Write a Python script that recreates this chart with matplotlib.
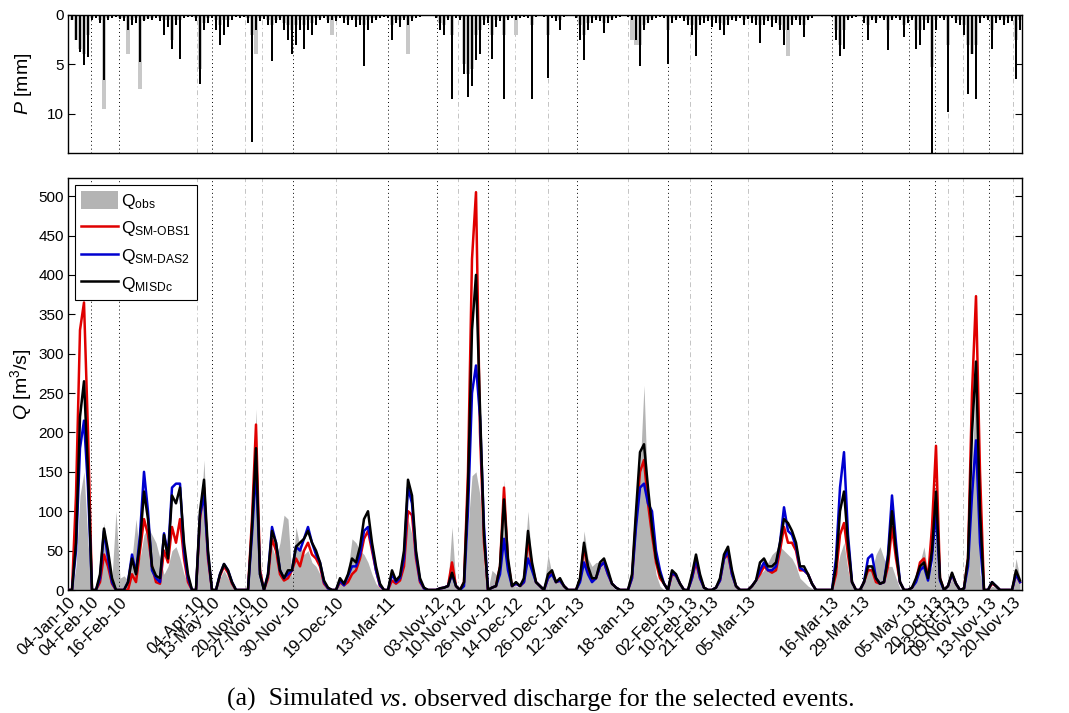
import numpy as np
import matplotlib
matplotlib.use('Agg')
import matplotlib.pyplot as plt
from matplotlib.patches import Patch
from matplotlib.lines import Line2D

plt.rcParams['font.family'] = ['Liberation Sans', 'DejaVu Sans']
plt.rcParams['mathtext.fontset'] = 'custom'
plt.rcParams['mathtext.rm'] = 'Liberation Sans'
plt.rcParams['mathtext.it'] = 'Liberation Sans:italic'

# event start labels and their position on the concatenated time axis (samples)
event_labels = ['04-Jan-10', '04-Feb-10', '16-Feb-10', '04-Apr-10', '13-May-10',
                '20-Nov-10', '27-Nov-10', '30-Nov-10', '19-Dec-10', '13-Mar-11',
                '03-Nov-12', '10-Nov-12', '26-Nov-12', '14-Dec-12', '26-Dec-12',
                '12-Jan-13', '18-Jan-13', '02-Feb-13', '10-Feb-13', '21-Feb-13',
                '05-Mar-13', '16-Mar-13', '29-Mar-13', '05-May-13', '20-Oct-13',
                '23-Oct-13', '09-Nov-13', '13-Nov-13', '20-Nov-13']
event_pos = [0, 5.75, 12.75, 32.25, 36, 44.25, 48.5, 56.25, 67, 80,
             92.25, 97.5, 105, 111.75, 120, 127.25, 140, 150, 155.5, 160.75,
             170, 191, 198.5, 210.25, 216.75, 220, 223.75, 230.25, 236.25]
# events marked with a black dotted line (1), light dash-dot line (0), none (-1)
event_mark = [-1, 1, 1, 0, 1, 0, 0, 1, 0, 1,
              1, 0, 1, 0, 0, 1, 0, 1, 0, 1,
              0, 1, 1, 1, 1, 0, 0, 1, 0]

# rainfall [mm]
p_main = [0.3, 0.5, 2.5, 3.8, 5.1, 4.3, 0.5, 0.3, 0.8, 6.6,
          0.5, 0.3, 0.2, 0.4, 0.6, 1.5, 1.0, 0.8, 4.8, 0.6,
          0.4, 0.5, 0.3, 0.6, 2.0, 1.2, 3.5, 1.0, 4.5, 0.3,
          0.2, 0.2, 0.6, 7.0, 1.5, 0.8, 0.3, 1.5, 3.0, 2.0,
          1.2, 0.5, 0.2, 0.3, 0.2, 0.8, 12.9, 1.5, 0.6, 0.4,
          1.0, 4.7, 0.8, 0.5, 1.5, 2.5, 4.0, 3.0, 1.5, 3.4,
          1.5, 2.0, 1.0, 0.5, 0.3, 0.8, 0.5, 0.6, 0.3, 0.8,
          1.0, 0.5, 1.2, 1.0, 5.2, 1.5, 0.8, 0.5, 0.3, 0.2,
          0.3, 2.5, 0.8, 1.2, 0.5, 1.0, 0.6, 0.3, 0.2, 0.1,
          0.0, 0.0, 0.3, 1.5, 2.0, 0.5, 8.5, 0.3, 0.5, 6.0,
          8.3, 7.2, 4.6, 4.0, 1.0, 0.8, 4.5, 1.2, 0.6, 8.5,
          0.5, 0.3, 0.5, 0.3, 0.2, 0.3, 8.5, 0.2, 0.1, 0.2,
          6.4, 0.3, 0.6, 1.5, 0.2, 0.1, 0.0, 0.3, 2.5, 4.6,
          1.5, 0.8, 0.5, 0.6, 1.8, 0.8, 0.5, 0.3, 0.2, 0.1,
          0.2, 0.5, 2.5, 5.2, 1.5, 0.8, 0.5, 0.3, 0.2, 0.3,
          5.0, 0.8, 0.5, 0.3, 0.6, 1.0, 2.0, 4.2, 1.0, 0.8,
          0.6, 1.2, 0.8, 1.5, 2.0, 1.0, 0.5, 0.6, 0.3, 1.0,
          0.4, 0.8, 1.0, 2.8, 1.0, 0.6, 1.2, 0.8, 1.5, 3.0,
          1.5, 1.0, 0.5, 1.0, 2.2, 0.5, 0.3, 0.1, 0.0, 0.0,
          0.0, 0.2, 2.5, 4.2, 3.5, 0.5, 0.3, 0.2, 0.1, 0.8,
          2.5, 0.5, 0.8, 0.3, 0.5, 3.6, 0.5, 0.3, 0.5, 2.2,
          0.8, 0.5, 3.4, 3.0, 1.5, 0.8, 14.0, 1.5, 0.3, 0.5,
          9.8, 0.3, 0.8, 1.0, 2.0, 8.0, 4.0, 8.5, 0.8, 0.3,
          0.5, 3.5, 0.8, 0.5, 1.0, 0.8, 0.6, 6.5, 1.5]
p_alt = [0.0, 0.5, 2.5, 3.5, 4.0, 2.0, 0.3, 0.0, 0.5, 9.5,
         0.3, 0.0, 0.0, 0.3, 0.3, 4.0, 0.5, 0.3, 7.5, 0.5,
         0.3, 0.3, 0.0, 0.3, 0.5, 0.5, 2.5, 0.5, 0.5, 0.0,
         0.0, 0.0, 0.3, 5.5, 0.8, 0.3, 0.0, 0.5, 1.0, 0.5,
         0.5, 0.0, 0.0, 0.0, 0.0, 0.3, 2.0, 4.0, 0.3, 0.0,
         0.5, 1.0, 0.5, 0.3, 0.8, 1.0, 1.5, 1.0, 0.5, 1.0,
         0.5, 0.8, 0.3, 0.3, 0.0, 0.5, 2.0, 0.3, 0.0, 0.3,
         0.5, 0.3, 0.5, 0.5, 1.0, 0.5, 0.3, 0.3, 0.0, 0.0,
         0.0, 1.0, 0.5, 0.5, 0.3, 4.0, 0.3, 0.0, 0.0, 0.0,
         0.0, 0.0, 0.0, 0.8, 1.0, 0.3, 2.0, 0.0, 0.3, 5.0,
         6.0, 5.5, 2.0, 1.5, 0.5, 0.3, 2.0, 0.5, 0.3, 2.0,
         0.3, 0.0, 2.0, 0.0, 0.0, 0.0, 1.0, 0.0, 0.0, 0.0,
         2.0, 0.0, 0.3, 0.5, 0.0, 0.0, 0.0, 0.0, 1.0, 2.0,
         0.8, 0.3, 0.3, 0.3, 0.8, 0.3, 0.3, 0.0, 0.0, 0.0,
         0.0, 2.5, 3.0, 3.0, 1.0, 0.5, 0.3, 0.0, 0.0, 0.0,
         1.5, 0.3, 0.3, 0.0, 0.3, 0.5, 1.0, 1.5, 0.5, 0.3,
         0.3, 0.5, 0.3, 0.8, 1.0, 0.5, 0.3, 0.3, 0.0, 0.5,
         0.3, 0.3, 0.5, 1.0, 0.5, 0.3, 0.5, 0.5, 1.0, 1.5,
         4.2, 0.5, 0.3, 0.5, 1.0, 0.3, 0.0, 0.0, 0.0, 0.0,
         0.0, 0.0, 1.5, 3.0, 1.5, 0.3, 0.0, 0.0, 0.0, 0.3,
         1.0, 0.3, 0.5, 0.0, 0.3, 1.5, 0.3, 0.0, 0.3, 1.0,
         0.3, 0.3, 1.5, 1.5, 0.5, 0.5, 5.3, 0.5, 0.0, 0.3,
         3.0, 0.0, 0.5, 0.5, 1.0, 3.0, 4.0, 3.0, 0.3, 0.0,
         0.3, 1.5, 0.3, 0.3, 0.5, 0.3, 0.3, 2.5, 0.5]

# discharge [m3/s]
q_obs = [0, 0, 30, 120, 150, 60, 0, 0, 15, 85,
         40, 15, 100, 15, 18, 12, 40, 90, 40, 70,
         80, 70, 60, 40, 20, 30, 50, 55, 40, 20,
         8, 3, 0, 80, 165, 40, 0, 0, 15, 25,
         15, 5, 0, 0, 0, 0, 80, 230, 20, 0,
         15, 55, 40, 60, 95, 90, 15, 80, 55, 45,
         50, 35, 30, 20, 8, 2, 0, 0, 10, 8,
         25, 65, 60, 50, 45, 35, 20, 8, 2, 0,
         0, 10, 8, 12, 40, 90, 70, 30, 8, 2,
         0, 0, 0, 5, 5, 8, 80, 5, 0, 10,
         80, 145, 150, 120, 30, 0, 25, 20, 20, 140,
         30, 5, 5, 3, 30, 100, 30, 10, 5, 2,
         45, 20, 10, 15, 5, 0, 0, 0, 10, 75,
         40, 30, 35, 35, 30, 15, 5, 0, 0, 0,
         0, 20, 100, 150, 260, 110, 60, 20, 5, 0,
         0, 20, 15, 5, 0, 0, 15, 45, 15, 3,
         0, 0, 2, 15, 40, 45, 20, 5, 0, 0,
         0, 5, 10, 20, 25, 35, 45, 50, 55, 50,
         45, 40, 30, 15, 10, 5, 2, 0, 0, 0,
         0, 0, 20, 45, 60, 25, 5, 0, 0, 10,
         30, 25, 45, 55, 40, 30, 30, 15, 2, 0,
         0, 5, 15, 35, 55, 20, 30, 80, 10, 0,
         3, 15, 8, 0, 0, 30, 150, 280, 20, 0,
         0, 5, 3, 0, 0, 0, 0, 40, 15]
q_sm_obs1 = [0, 0, 120, 330, 365, 200, 0, 0, 10, 45,
             30, 8, 0, 0, 0, 0, 20, 10, 50, 90,
             70, 30, 10, 8, 50, 35, 80, 60, 90, 40,
             10, 0, 0, 90, 130, 40, 0, 0, 18, 30,
             22, 8, 0, 0, 0, 0, 90, 210, 25, 0,
             15, 65, 50, 20, 12, 15, 25, 40, 30, 50,
             60, 45, 40, 30, 8, 2, 0, 0, 10, 6,
             10, 20, 25, 40, 65, 75, 50, 25, 5, 0,
             0, 12, 8, 12, 30, 100, 95, 40, 10, 2,
             0, 0, 0, 2, 3, 5, 35, 5, 0, 10,
             150, 420, 505, 200, 60, 0, 3, 5, 30, 130,
             35, 5, 8, 5, 10, 65, 30, 10, 5, 0,
             15, 22, 10, 12, 5, 0, 0, 0, 12, 55,
             25, 12, 15, 30, 35, 20, 8, 3, 0, 0,
             0, 15, 90, 150, 165, 110, 70, 35, 15, 8,
             0, 20, 18, 8, 0, 0, 15, 35, 15, 3,
             0, 0, 3, 12, 40, 45, 20, 5, 0, 0,
             0, 5, 12, 20, 30, 25, 22, 25, 50, 80,
             60, 60, 50, 25, 25, 20, 8, 0, 0, 0,
             0, 0, 20, 70, 85, 45, 10, 0, 0, 10,
             25, 25, 10, 8, 10, 30, 80, 40, 10, 0,
             0, 3, 12, 35, 40, 15, 80, 183, 15, 0,
             5, 20, 8, 0, 2, 40, 250, 373, 150, 0,
             0, 8, 5, 0, 0, 0, 0, 20, 10]
q_sm_das2 = [0, 0, 50, 180, 215, 130, 0, 0, 15, 75,
             40, 10, 0, 0, 0, 10, 45, 22, 70, 150,
             100, 25, 15, 10, 72, 45, 130, 135, 135, 50,
             15, 0, 0, 95, 120, 45, 0, 0, 20, 33,
             25, 10, 0, 0, 0, 0, 70, 155, 20, 0,
             20, 80, 60, 25, 15, 20, 25, 55, 50, 65,
             80, 60, 45, 35, 10, 2, 0, 0, 12, 6,
             18, 30, 30, 45, 75, 80, 55, 25, 6, 0,
             0, 20, 10, 15, 40, 130, 110, 45, 12, 2,
             0, 0, 0, 2, 3, 5, 20, 5, 0, 5,
             100, 250, 285, 220, 80, 0, 3, 5, 20, 65,
             25, 5, 8, 5, 10, 40, 25, 10, 5, 0,
             15, 20, 10, 12, 5, 0, 0, 0, 10, 35,
             20, 10, 15, 30, 35, 20, 8, 3, 0, 0,
             0, 15, 80, 130, 135, 110, 100, 50, 25, 8,
             0, 22, 18, 8, 0, 0, 15, 40, 15, 3,
             0, 0, 3, 12, 40, 50, 20, 5, 0, 0,
             0, 5, 12, 25, 35, 25, 25, 30, 60, 105,
             75, 70, 55, 28, 25, 20, 8, 0, 0, 0,
             0, 0, 40, 130, 175, 70, 10, 0, 0, 10,
             40, 45, 15, 8, 10, 45, 120, 60, 10, 0,
             0, 3, 10, 25, 30, 12, 40, 100, 12, 0,
             5, 20, 8, 0, 2, 30, 120, 190, 60, 0,
             0, 10, 5, 0, 0, 0, 0, 20, 10]
q_misdc = [0, 0, 60, 220, 265, 150, 0, 0, 20, 78,
           50, 15, 0, 0, 0, 10, 40, 20, 60, 125,
           90, 30, 18, 15, 70, 40, 120, 110, 130, 60,
           20, 0, 0, 100, 140, 50, 0, 0, 20, 33,
           25, 10, 0, 0, 0, 0, 80, 180, 20, 0,
           20, 75, 60, 25, 15, 25, 25, 55, 60, 65,
           75, 60, 50, 35, 12, 3, 0, 0, 15, 8,
           20, 40, 35, 55, 90, 100, 60, 30, 8, 0,
           0, 25, 12, 18, 50, 140, 120, 50, 15, 3,
           0, 0, 0, 2, 3, 5, 22, 5, 0, 10,
           130, 330, 400, 230, 70, 0, 3, 5, 30, 115,
           40, 5, 10, 5, 15, 75, 35, 10, 5, 0,
           20, 25, 10, 15, 5, 0, 0, 0, 15, 60,
           30, 15, 15, 35, 40, 25, 8, 3, 0, 0,
           0, 20, 100, 175, 185, 130, 80, 40, 20, 8,
           0, 25, 20, 8, 0, 0, 20, 45, 20, 3,
           0, 0, 3, 15, 45, 55, 25, 5, 0, 0,
           0, 5, 12, 35, 40, 30, 30, 35, 60, 90,
           85, 75, 60, 30, 30, 20, 8, 0, 0, 0,
           0, 0, 30, 100, 125, 60, 10, 0, 0, 10,
           30, 30, 15, 8, 10, 40, 100, 50, 10, 0,
           0, 3, 15, 30, 35, 15, 50, 125, 15, 0,
           5, 22, 8, 0, 2, 40, 200, 290, 100, 0,
           0, 10, 5, 0, 0, 0, 0, 25, 12]

t = np.arange(len(q_obs))
xmax = len(q_obs) - 0.5

W, H = 1069, 713
fig = plt.figure(figsize=(W / 100, H / 100), dpi=100)
ax1 = fig.add_axes([68 / W, 1 - 153 / H, 954 / W, 138 / H])
ax2 = fig.add_axes([68 / W, 1 - 590 / H, 954 / W, 412 / H])

black_pos = [p for p, m in zip(event_pos, event_mark) if m == 1]
light_pos = [p for p, m in zip(event_pos, event_mark) if m == 0]


def event_lines(ax):
    for p in black_pos:
        ax.axvline(p, color='k', ls=(0, (1, 3)), lw=0.7, zorder=1.5)
    for p in light_pos:
        ax.axvline(p, color='#c4c4c4', ls=(0, (5, 3, 1, 3)), lw=0.7, zorder=1.5)


def style_axes(ax):
    for s in ax.spines.values():
        s.set_linewidth(1.0)
    ax.tick_params(axis='y', direction='in', length=5, left=True, right=True,
                   labelsize=11, pad=3)
    ax.set_xticks(black_pos, minor=True)
    ax.tick_params(axis='x', which='minor', direction='in', length=5,
                   top=True, bottom=True)
    ax.tick_params(axis='x', which='major', length=0)
    ax.set_xlim(0, xmax)


# rainfall panel
event_lines(ax1)
ax1.bar(t, p_alt, width=0.9, color='#c8c8c8', zorder=2)
ax1.bar(t, p_main, width=0.45, color='black', zorder=3)
ax1.set_ylim(14, 0)
ax1.set_yticks([0, 5, 10])
style_axes(ax1)
ax1.set_xticks(event_pos)
ax1.set_xticklabels([])
ax1.set_ylabel('$P$ [mm]', fontsize=14)
ax1.yaxis.set_label_coords(-34 / 954, 0.5)

# discharge panel
event_lines(ax2)
ax2.fill_between(t, 0, q_obs, color='#b4b4b4', lw=0, zorder=1)
ax2.plot(t, q_sm_obs1, color='#e00000', lw=1.8, zorder=3)
ax2.plot(t, q_sm_das2, color='#0000d0', lw=1.8, zorder=4)
ax2.plot(t, q_misdc, color='black', lw=1.8, zorder=5)
ax2.set_ylim(0, 523)
ax2.set_yticks(np.arange(0, 501, 50))
style_axes(ax2)
ax2.set_xticks(event_pos)
ax2.set_xticklabels(event_labels, rotation=45, ha='right', va='top',
                    rotation_mode='anchor', fontsize=12)
ax2.tick_params(axis='x', which='major', pad=3)
ax2.set_ylabel('$Q$ [m$^3$/s]', fontsize=14)
ax2.yaxis.set_label_coords(-34 / 954, 0.5)

handles = [Patch(facecolor='#b4b4b4', edgecolor='none'),
           Line2D([], [], color='#e00000', lw=1.8),
           Line2D([], [], color='#0000d0', lw=1.8),
           Line2D([], [], color='black', lw=1.8)]
labels = [r'Q$_\mathregular{obs}$', r'Q$_\mathregular{SM\text{-}OBS1}$',
          r'Q$_\mathregular{SM\text{-}DAS2}$', r'Q$_\mathregular{MISDc}$']
leg = ax2.legend(handles, labels, loc='upper left', bbox_to_anchor=(7 / 954, 405 / 412),
                 borderaxespad=0, fontsize=12.5, fancybox=False, framealpha=1,
                 edgecolor='black', handlelength=2.1, handleheight=1.2,
                 handletextpad=0.2, labelspacing=0.45, borderpad=0.35)
leg.get_frame().set_linewidth(0.8)
leg.set_zorder(10)

# caption
serif = ['Liberation Serif', 'DejaVu Serif']
c1 = fig.text(227 / W, 1 - 711 / H, '(a)  Simulated ', family=serif, fontsize=18.5,
              va='bottom')
c2 = ax2.annotate('vs', xy=(1, 0), xycoords=c1, va='bottom', family=serif,
                  fontsize=18.5, style='italic', annotation_clip=False)
ax2.annotate('. observed discharge for the selected events.', xy=(1, 0),
             xycoords=c2, va='bottom', family=serif, fontsize=18.5,
             annotation_clip=False)

fig.savefig('out.png', dpi=100)
